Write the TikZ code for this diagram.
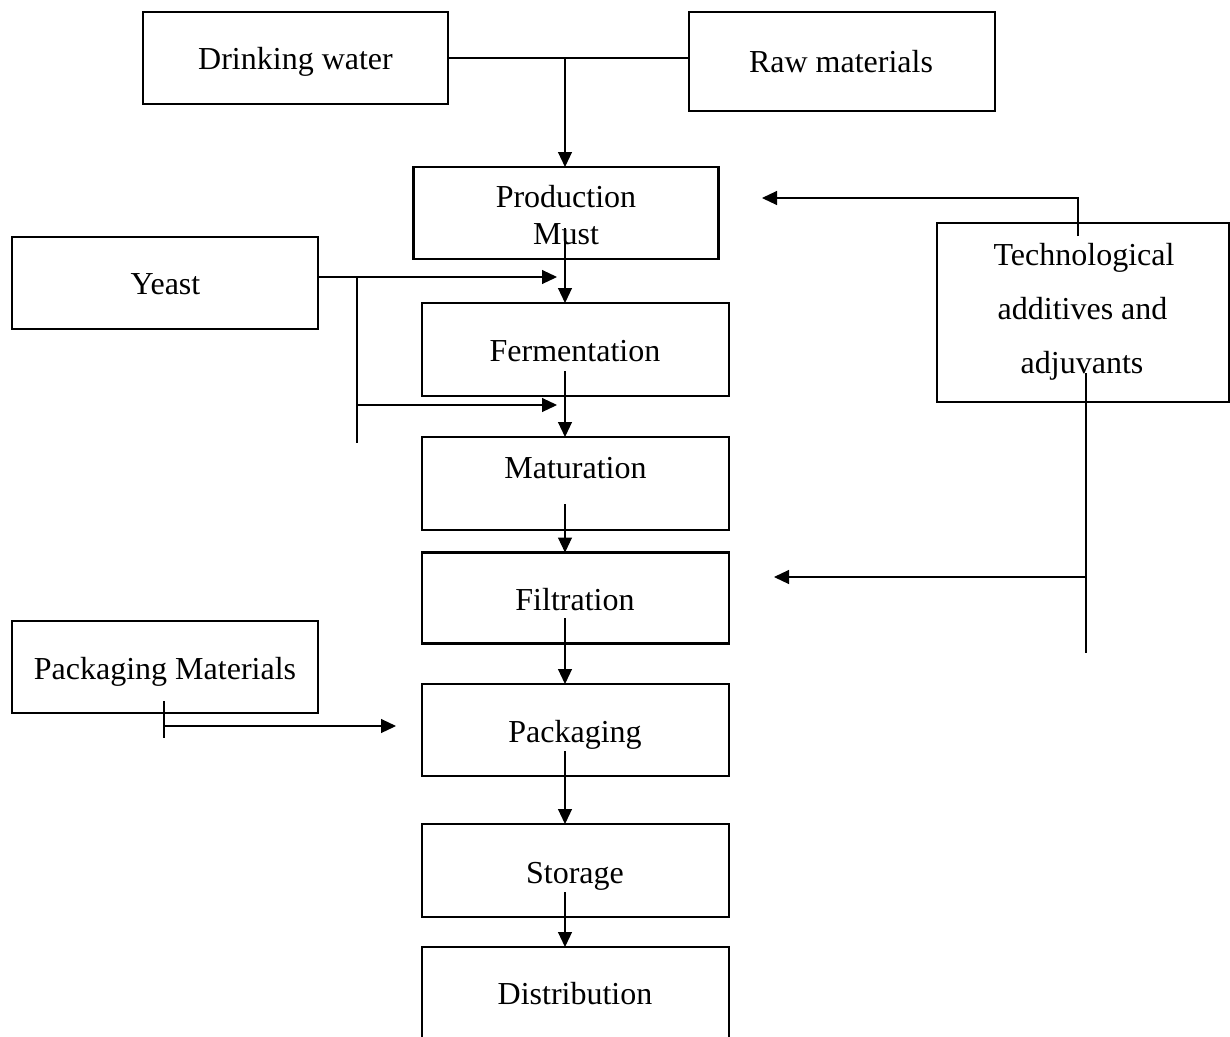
\documentclass[tikz,border=0pt]{standalone}
\usepackage{fontspec}
\setmainfont{Liberation Serif}
\usetikzlibrary{arrows.meta}
\begin{document}
\begin{tikzpicture}[x=1pt,y=-1pt,
  box/.style={draw,line width=2.5pt,rectangle,inner sep=0pt,outer sep=0pt},
  lbl/.style={anchor=base,inner sep=0pt,font=\fontsize{32}{38}\selectfont},
  conn/.style={line width=1.1pt},
  arr/.style={conn,-{Triangle[length=15pt,width=14pt]}}]
\useasboundingbox (0,0) rectangle (1230,1036);
\clip (0,0) rectangle (1230,1036);
% boxes
\node[box,minimum width=305pt,minimum height=92pt] (dw) at (295.5,58) {};
\node[box,minimum width=306pt,minimum height=99pt] (rm) at (842,61.5) {};
\node[box,minimum width=305pt,minimum height=92pt] (pm) at (566,213) {};
\node[box,minimum width=306pt,minimum height=92pt] (yeast) at (165,283) {};
\node[box,minimum width=307pt,minimum height=93pt] (fer) at (575.5,349.5) {};
\node[box,minimum width=307pt,minimum height=93pt] (mat) at (575.5,483.5) {};
\node[box,minimum width=307pt,minimum height=91pt] (fil) at (575.5,598) {};
\node[box,minimum width=307pt,minimum height=92pt] (pkg) at (575.5,730) {};
\node[box,minimum width=307pt,minimum height=93pt] (sto) at (575.5,870.5) {};
\node[box,minimum width=307pt,minimum height=92pt] (dis) at (575.5,993) {};
\node[box,minimum width=292pt,minimum height=179pt] (tech) at (1083,312.5) {};
\node[box,minimum width=306pt,minimum height=92pt] (pmat) at (165,667) {};
% labels
\node[lbl] (dwT) at (295.5,69) {Drinking water};
\node[lbl] (rmT) at (841,72) {Raw materials};
\node[lbl] (pmT1) at (566,207) {Production};
\node[lbl] (pmT2) at (566,244) {Must};
\node[lbl] (yeastT) at (165.5,294) {Yeast};
\node[lbl] (ferT) at (575,361) {Fermentation};
\node[lbl] (matT) at (575.5,478) {Maturation};
\node[lbl] (filT) at (575,610) {Filtration};
\node[lbl] (pkgT) at (575,742) {Packaging};
\node[lbl] (stoT) at (575,883) {Storage};
\node[lbl] (disT) at (575,1004) {Distribution};
\node[lbl] (techT1) at (1084,265) {Technological};
\node[lbl] (techT2) at (1082.5,319) {additives and};
\node[lbl] (techT3) at (1082,373) {adjuvants};
\node[lbl] (pmatT) at (165,679) {Packaging Materials};
% top inputs
\coordinate (j1) at (565,58);
\draw[conn] (dw.east) -- (rm.west |- dw.east);
\draw[arr] (j1) -- (j1 |- pm.north);
% main flow
\coordinate (s1) at (565,228);
\coordinate (s2) at (565,371);
\coordinate (s3) at (565,504);
\coordinate (s4) at (565,618);
\coordinate (s5) at (565,751);
\coordinate (s6) at (565,892);
\draw[arr] (s1) -- (s1 |- fer.north);
\draw[arr] (s2) -- (s2 |- mat.north);
\draw[arr] (s3) -- (s3 |- fil.north);
\draw[arr] (s4) -- (s4 |- pkg.north);
\draw[arr] (s5) -- (s5 |- sto.north);
\draw[arr] (s6) -- (s6 |- dis.north);
% yeast
\coordinate (yt) at (557,277);
\coordinate (yb1) at (357,277);
\coordinate (yb2) at (357,443);
\coordinate (yt2) at (557,405);
\draw[arr] (yeast.east |- yt) -- (yt);
\draw[conn] (yb1) -- (yb2);
\draw[arr] (yb1 |- yt2) -- (yt2);
% technological additives
\coordinate (t1) at (1078,236);
\coordinate (t1e) at (762,198);
\draw[arr] (t1) |- (t1e);
\coordinate (t2a) at (1086,373);
\coordinate (t2b) at (1086,653);
\coordinate (t2e) at (774,577);
\draw[conn] (t2a) -- (t2b);
\draw[arr] (t2a |- t2e) -- (t2e);
% packaging materials
\coordinate (p1) at (164,701);
\coordinate (p2) at (164,738);
\coordinate (pe) at (396,726);
\draw[conn] (p1) -- (p2);
\draw[arr] (p1 |- pe) -- (pe);
\end{tikzpicture}
\end{document}
